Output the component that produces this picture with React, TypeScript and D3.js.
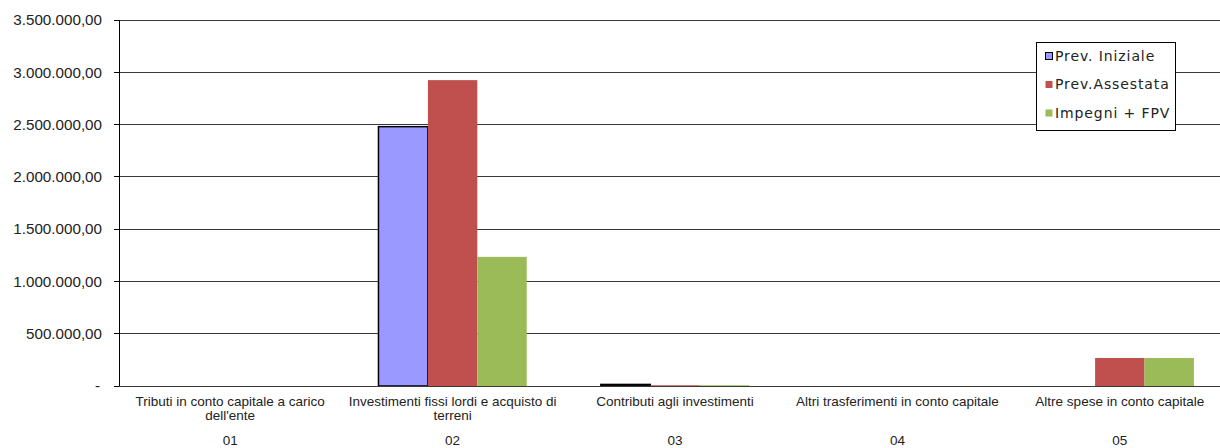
import React from "react";
import * as d3 from "d3";

const codes = ["01", "02", "03", "04", "05"];
const categoryLines = [
  ["Tributi in conto capitale a carico", "dell'ente"],
  ["Investimenti fissi lordi e acquisto di", "terreni"],
  ["Contributi agli investimenti"],
  ["Altri trasferimenti in conto capitale"],
  ["Altre spese in conto capitale"],
];
const seriesNames = ["Prev. Iniziale", "Prev.Assestata", "Impegni + FPV"];
const prevIniziale = [0, 2480000, 15000, 0, 0];
const prevAssestata = [0, 2925000, 7000, 0, 268000];
const impegniFpv = [0, 1235000, 7000, 0, 268000];
const yTicks = [0, 500000, 1000000, 1500000, 2000000, 2500000, 3000000, 3500000];

const colors = ["#9999FF", "#C0504D", "#9BBB59"];
const strokes = ["#000000", "none", "none"];

const W = 1220;
const H = 448;
const left = 119;
const right = 1231;
const top = 20;
const bottom = 386;

function fmt(v: number) {
  if (v === 0) return "-";
  const s = Math.round(v).toString().replace(/\B(?=(\d{3})+(?!\d))/g, ".");
  return s + ",00";
}

export default function App() {
  const series = [prevIniziale, prevAssestata, impegniFpv];
  const x = d3.scaleBand<string>().domain(codes).range([left, right]).padding(0);
  const bw = x.bandwidth();
  const gap = (bw * 1.5) / 4.5;
  const xi = d3
    .scaleBand<string>()
    .domain(seriesNames)
    .range([gap / 2, bw - gap / 2])
    .padding(0);
  const y = d3.scaleLinear().domain([0, 3500000]).range([bottom, top]);

  return (
    <svg
      width={W}
      height={H}
      style={{ position: "absolute", left: 0, top: 0, background: "#fff" }}
    >
      <rect x={0} y={0} width={W} height={H} fill="#fff" />
      {yTicks.map((t) => (
        <g key={t}>
          <line x1={left} x2={W} y1={y(t)} y2={y(t)} stroke="#3a3a3a" strokeWidth={1} shapeRendering="crispEdges" />
          <line x1={left - 5} x2={left} y1={y(t)} y2={y(t)} stroke="#000" strokeWidth={1} shapeRendering="crispEdges" />
          <text
            x={t === 0 ? 100 : 102}
            y={y(t)}
            dy="0.35em"
            textAnchor="end"
            fontFamily="'Liberation Sans', Arial, sans-serif"
            fontSize={15.2}
            fill="#222"
          >
            {fmt(t)}
          </text>
        </g>
      ))}
      {codes.map((c, ci) => (
        <g key={c}>
          {series.map((vals, si) => {
            const v = vals[ci];
            if (v <= 0) return null;
            const x0 = (x(c) as number) + (xi(seriesNames[si]) as number);
            const h = bottom - y(v);
            return (
              <rect
                key={si}
                x={x0}
                y={y(v)}
                width={xi.bandwidth()}
                height={Math.max(h, 1)}
                fill={colors[si]}
                stroke={strokes[si]}
                strokeWidth={strokes[si] === "none" ? 0 : 1.5}
              />
            );
          })}
        </g>
      ))}
      <line x1={left} x2={left} y1={top} y2={bottom} stroke="#000" strokeWidth={1} shapeRendering="crispEdges" />
      <line x1={left} x2={W} y1={bottom} y2={bottom} stroke="#3a3a3a" strokeWidth={1} shapeRendering="crispEdges" />
      {codes.map((c, ci) => {
        const cx = (x(c) as number) + bw / 2;
        return (
          <g key={c} fontFamily="'Liberation Sans', Arial, sans-serif" fontSize={13.5} fill="#222" textAnchor="middle">
            {categoryLines[ci].map((ln, li) => (
              <text key={li} x={cx} y={401 + li * 14.5} dy="0.35em">
                {ln}
              </text>
            ))}
            <text x={cx} y={440} dy="0.35em">
              {c}
            </text>
          </g>
        );
      })}
      <g>
        <rect x={1036.5} y={42.5} width={139} height={88} fill="#fff" stroke="#000" strokeWidth={1} />
        {seriesNames.map((n, i) => {
          const cy = 56 + i * 28.5;
          return (
            <g key={n}>
              <rect
                x={1045.5}
                y={cy - 3.5}
                width={7}
                height={7}
                fill={colors[i]}
                stroke={i === 0 ? "#000" : "none"}
                strokeWidth={1}
              />
              <text
                x={1055}
                y={cy}
                dy="0.35em"
                fontFamily="'DejaVu Sans', Verdana, sans-serif"
                fontSize={14}
                letterSpacing={0.9}
                fill="#222"
              >
                {n}
              </text>
            </g>
          );
        })}
      </g>
    </svg>
  );
}
